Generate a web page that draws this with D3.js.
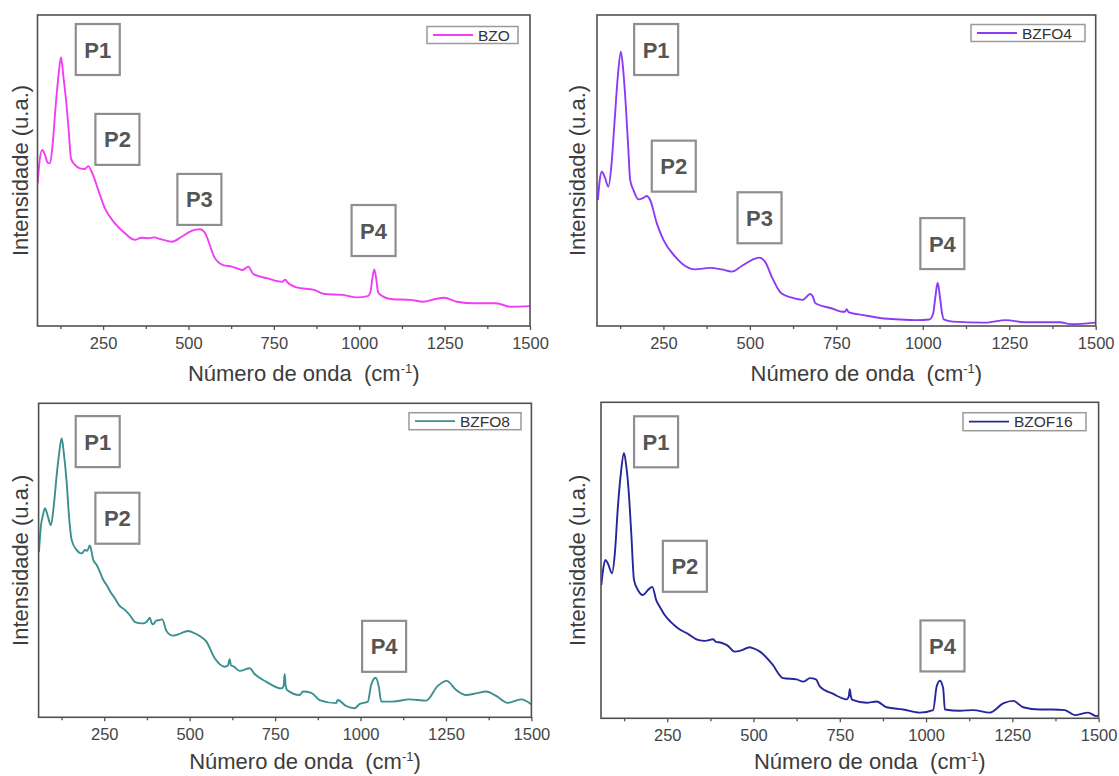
<!DOCTYPE html>
<html>
<head>
<meta charset="utf-8">
<script src="https://cdn.jsdelivr.net/npm/d3@7"></script>
<style>
  html, body { margin: 0; padding: 0; background: #ffffff; }
  svg { display: block; font-family: "Liberation Sans", Arial, Helvetica, sans-serif; }
</style>
</head>
<body>
<svg id="chart" width="1119" height="776"></svg>
<script>
// ---------------- DATA ----------------
const xDomain = [58, 1500];
const yDomain = [0, 100];
const majorTicks = [250, 500, 750, 1000, 1250, 1500];
const minorTicks = [125, 375, 625, 875, 1125, 1375];
const xTitle = "Número de onda";
const yTitle = "Intensidade (u.a.)";

const seriesNames = ["BZO", "BZFO4", "BZFO8", "BZOF16"];
const seriesColors = ["#f23ef2", "#8a3cf4", "#3b8f8f", "#26269a"];

const bzoX = [58.6, 64, 72, 80, 88, 94.6, 102, 111, 119, 126.8, 134, 143.5, 150, 156, 167.7, 182, 196, 206.7, 216.6, 236, 255.5, 284.8, 314, 343, 362, 382, 400, 416.5, 450.8, 480, 509, 533.6, 548, 567.7, 575, 601, 627, 659, 675, 690, 732, 774, 784, 790, 816, 868, 899, 952, 993, 1025, 1033, 1038, 1044, 1050, 1055, 1062, 1098, 1150, 1187, 1220, 1249, 1286, 1338, 1401, 1443, 1500];
const bzoY = [45.9, 53, 56.6, 55, 52.5, 52.3, 58, 70.5, 80, 86.4, 80, 70.5, 62, 53.9, 51.8, 50.7, 50.5, 51.4, 49.6, 43.7, 37.8, 33, 29.8, 27.7, 28.4, 28.2, 28.5, 28, 27.1, 28.7, 30.6, 31.1, 30, 24.4, 22.3, 19.6, 19.1, 18, 19.1, 16.7, 15.3, 14.2, 14.9, 14, 12.4, 11.6, 10.3, 10, 9.2, 9.6, 11, 15, 18.2, 15, 11, 10, 8.6, 8.4, 7.8, 8.6, 9.1, 7.8, 7.3, 7.3, 6.2, 6.4];

const bzfo4X = [60.6, 66, 72, 80, 91, 100, 108.5, 118, 127, 134, 141.5, 148, 154, 163.5, 178, 192, 202, 211.7, 231, 250, 284, 313, 341.6, 385, 418.8, 447.6, 476.5, 505.4, 526.5, 543.8, 563, 582, 591, 622, 653, 665, 674, 682, 689.5, 735.7, 766.6, 775, 780, 785, 828.7, 880, 932, 983, 1019, 1030, 1036, 1043, 1050, 1056, 1060.6, 1086.6, 1179, 1241, 1293, 1396, 1427, 1500];
const bzfo4Y = [40.5, 47, 49.6, 48, 44.8, 52, 65.2, 80, 88.2, 82, 70.5, 58, 46.9, 43.7, 40.7, 41.2, 41.8, 40.5, 33, 27.7, 22.3, 19.3, 18.2, 18.7, 18.2, 17.5, 19.3, 21.2, 22, 20.7, 15.9, 11.8, 10.5, 9.1, 8.4, 9.5, 10.3, 9.5, 7.3, 5.7, 4.6, 4.6, 5.4, 4.5, 3.5, 2.5, 2.1, 1.9, 2.1, 4, 9, 13.9, 9, 4, 2.1, 1.4, 1.1, 1.9, 1.2, 1.2, 0.6, 1.1];

const bzfo8X = [59, 65, 70, 76.7, 85, 94, 103, 111, 118, 125.5, 132, 140, 147, 154.7, 169, 184, 193.6, 200, 208, 218, 228, 237, 247, 257, 268, 281, 295, 310.5, 325, 339.7, 352, 364, 375, 383.5, 388, 393, 402, 412.8, 420, 432, 451.6, 476, 495.5, 510, 529.6, 549, 573.5, 602.7, 612, 617, 621, 627, 646.5, 675.8, 690, 724.6, 768.5, 775, 778, 781, 785, 822, 831.5, 856, 880, 929, 933, 958, 982.6, 997, 1021.5, 1031, 1044, 1053.7, 1060.6, 1094.6, 1143, 1192, 1226, 1252, 1280, 1309, 1338, 1367.5, 1397, 1430.6, 1470, 1499];
const bzfo8Y = [52.7, 61.2, 64, 66.6, 64, 61.2, 68, 77.2, 84, 88.9, 84, 75, 64, 56.5, 53.3, 52.2, 53.3, 53, 54.7, 50.1, 48.5, 46.4, 43.8, 42.1, 40, 37.9, 35.5, 34.2, 32.5, 30.4, 30, 29.9, 30.5, 31.7, 30.2, 29.6, 30.8, 31, 31.2, 27.5, 26, 26.8, 27.5, 27, 25.9, 24.1, 18.8, 16.1, 16.5, 18.5, 16.5, 16.3, 14.8, 15.6, 13.8, 11.3, 9.2, 10, 13.8, 10, 8.7, 7.1, 8.2, 7.8, 5.5, 4.5, 5.5, 3.6, 2.9, 4.2, 5, 10.3, 12.6, 9.7, 5, 5, 5.7, 5.3, 10, 11.6, 8.7, 7.1, 7.6, 8.2, 6.8, 4.6, 5.7, 4.2];

const bzof16X = [59, 64, 70.5, 78, 90, 98, 107, 116, 124.6, 131, 138, 146, 153.6, 165, 179.7, 194, 206.6, 218, 230, 242.5, 260, 281, 310, 339, 360, 382.4, 390, 406.5, 425, 445, 465, 488.8, 498, 518.6, 552.5, 586, 625, 644, 663.5, 681, 692.4, 731, 770, 776, 779, 782, 787, 827.7, 856.7, 885.6, 933.8, 982, 1020.6, 1030.5, 1040, 1049.6, 1054.5, 1098, 1136.5, 1185, 1223.4, 1252.4, 1281.4, 1329.7, 1368, 1402, 1431, 1469.6, 1494, 1500];
const bzof16Y = [42.2, 47, 50.1, 49, 45.9, 52, 67, 78, 84, 80, 72.2, 58, 43.8, 40.6, 39, 40.6, 41.6, 37.4, 35, 32.7, 30.5, 28.5, 26.7, 24.8, 24.5, 25, 24.3, 23.9, 23, 21.1, 21.5, 22.5, 22.2, 21.1, 17.4, 12.7, 12.3, 11.6, 12.7, 12.3, 10, 7.7, 6, 7, 9.2, 7, 5.8, 4.9, 5.3, 3.5, 2.8, 1.8, 2.6, 10, 11.9, 9.5, 2.8, 2.4, 2.6, 1.8, 4.7, 5.5, 3.5, 2.8, 2.8, 2.6, 1, 1.8, 0.7, 0.9];

// Peak annotation labels (box centres in data units: wavenumber, intensity)
const bzoLabels = ["P1", "P2", "P3", "P4"];
const bzoLabelX = [234.5, 292, 532, 1042];
const bzoLabelY = [88.9, 60, 40.7, 30.7];
const bzfo4Labels = ["P1", "P2", "P3", "P4"];
const bzfo4LabelX = [229, 280, 528, 1056.6];
const bzfo4LabelY = [88.9, 51.4, 34.8, 26.5];
const bzfo8Labels = ["P1", "P2", "P4"];
const bzfo8LabelX = [231, 288.6, 1069];
const bzfo8LabelY = [87.8, 63.4, 22.6];
const bzof16Labels = ["P1", "P2", "P4"];
const bzof16LabelX = [217.6, 301, 1047.6];
const bzof16LabelY = [87.5, 48.1, 22.9];

// ---------------- LAYOUT ----------------
const panels = [
  { xs: bzoX, ys: bzoY, lab: bzoLabels, lx: bzoLabelX, ly: bzoLabelY, left: 37.5, right: 530, top: 15, bottom: 326,
    legend: { x: 427, y: 26.5, w: 91, h: 17 }, yTitleX: 20, titleOff: 55 },
  { xs: bzfo4X, ys: bzfo4Y, lab: bzfo4Labels, lx: bzfo4LabelX, ly: bzfo4LabelY, left: 597, right: 1095.7, top: 15, bottom: 326,
    legend: { x: 971, y: 24.5, w: 114, h: 17 }, yTitleX: 577, titleOff: 55 },
  { xs: bzfo8X, ys: bzfo8Y, lab: bzfo8Labels, lx: bzfo8LabelX, ly: bzfo8LabelY, left: 38.6, right: 531.4, top: 403.3, bottom: 717.3,
    legend: { x: 409, y: 412.7, w: 112, h: 17 }, yTitleX: 20, titleOff: 52 },
  { xs: bzof16X, ys: bzof16Y, lab: bzof16Labels, lx: bzof16LabelX, ly: bzof16LabelY, left: 601, right: 1098.6, top: 402.3, bottom: 718.3,
    legend: { x: 963, y: 412.7, w: 123, h: 18 }, yTitleX: 577, titleOff: 51 }
];

const svg = d3.select("#chart");
const frameColor = "#505050";
const textColor = "#3c3c3c";

panels.forEach((p, i) => {
  const color = seriesColors[i];
  const x = d3.scaleLinear().domain(xDomain).range([p.left, p.right]);
  const y = d3.scaleLinear().domain(yDomain).range([p.bottom, p.top]);
  const g = svg.append("g");

  const clipId = "clip" + i;
  svg.append("clipPath").attr("id", clipId).append("rect")
    .attr("x", p.left).attr("y", p.top).attr("width", p.right - p.left).attr("height", p.bottom - p.top);

  const pts = p.xs.map((v, k) => [v, p.ys[k]]);
  const line = d3.line().x(d => x(d[0])).y(d => y(d[1])).curve(d3.curveMonotoneX);
  g.append("path").datum(pts)
    .attr("clip-path", `url(#${clipId})`)
    .attr("fill", "none").attr("stroke", color).attr("stroke-width", 1.9)
    .attr("stroke-linejoin", "round")
    .attr("d", line);

  const minorAxis = d3.axisBottom(x).tickValues(minorTicks).tickSize(3).tickFormat("");
  const gm = g.append("g").attr("transform", `translate(0,${p.bottom})`).call(minorAxis);
  gm.select(".domain").remove();
  gm.selectAll("line").attr("stroke", frameColor).attr("stroke-width", 1.3);

  const majorAxis = d3.axisBottom(x).tickValues(majorTicks).tickSize(4).tickPadding(7).tickFormat(d3.format("d"));
  const ga = g.append("g").attr("transform", `translate(0,${p.bottom})`).call(majorAxis);
  ga.select(".domain").remove();
  ga.selectAll("line").attr("stroke", frameColor).attr("stroke-width", 1.3);
  ga.selectAll("text").attr("fill", "#454545").style("font-size", "16.5px")
    .style("font-family", '"Liberation Sans", Arial, sans-serif');

  g.append("rect").attr("x", p.left).attr("y", p.top)
    .attr("width", p.right - p.left).attr("height", p.bottom - p.top)
    .attr("fill", "none").attr("stroke", frameColor).attr("stroke-width", 1.6);

  const xt = g.append("text")
    .attr("x", (p.left + p.right) / 2 + 20).attr("y", p.bottom + p.titleOff)
    .attr("text-anchor", "middle").attr("fill", textColor).style("font-size", "22px");
  xt.append("tspan").text(xTitle + "\u00a0\u00a0(cm");
  xt.append("tspan").text("-1").style("font-size", "13px").attr("dy", "-8");
  xt.append("tspan").text(")").attr("dy", "8");

  g.append("text")
    .attr("transform", `translate(${p.yTitleX},${(p.top + p.bottom) / 2}) rotate(-90)`)
    .attr("text-anchor", "middle").attr("dominant-baseline", "central")
    .attr("fill", textColor).style("font-size", "22px")
    .text(yTitle);

  const bw = 44, bh = 51;
  p.lab.forEach((t, k) => {
    const cx = x(p.lx[k]), cy = y(p.ly[k]);
    g.append("rect").attr("x", cx - bw / 2).attr("y", cy - bh / 2).attr("width", bw).attr("height", bh)
      .attr("fill", "#ffffff").attr("stroke", "#8e8e8e").attr("stroke-width", 2.2);
    g.append("text").attr("x", cx).attr("y", cy + 8)
      .attr("text-anchor", "middle").attr("fill", "#555555")
      .style("font-size", "22px").style("font-weight", "bold").text(t);
  });

  const L = p.legend;
  g.append("rect").attr("x", L.x).attr("y", L.y).attr("width", L.w).attr("height", L.h)
    .attr("fill", "#ffffff").attr("stroke", "#9a9a9a").attr("stroke-width", 1.5);
  g.append("line").attr("x1", L.x + 6).attr("x2", L.x + 46)
    .attr("y1", L.y + L.h / 2).attr("y2", L.y + L.h / 2)
    .attr("stroke", color).attr("stroke-width", 1.8);
  g.append("text").attr("x", L.x + 51).attr("y", L.y + L.h / 2 + 5.5)
    .attr("fill", "#333").style("font-size", "15.5px").text(seriesNames[i]);
});
</script>
</body>
</html>
